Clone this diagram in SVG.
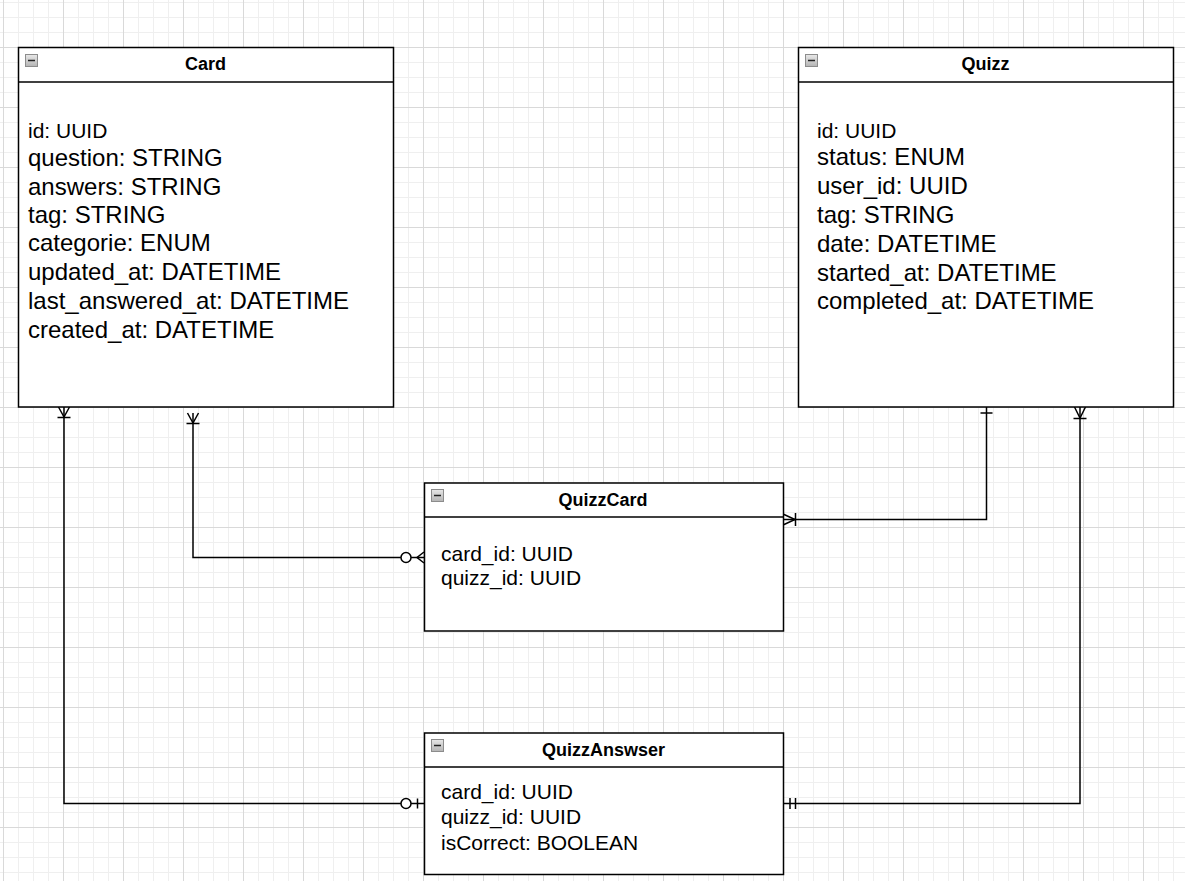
<svg xmlns="http://www.w3.org/2000/svg" width="1185" height="881" viewBox="0 0 1185 881">
  <defs>
    <!-- background grid: 15px minor cells, 60px major cells -->
    <pattern id="minorGrid" x="3" y="2" width="15" height="15" patternUnits="userSpaceOnUse">
      <path d="M0.5,0 V15 M0,0.5 H15" stroke="#efefef" stroke-width="1" fill="none"/>
    </pattern>
    <pattern id="majorGrid" x="3" y="47" width="60" height="60" patternUnits="userSpaceOnUse">
      <path d="M0.5,0 V60 M0,0.5 H60" stroke="#d9d9d9" stroke-width="1" fill="none"/>
    </pattern>
    <linearGradient id="iconFill" x1="0" y1="0" x2="0" y2="1">
      <stop offset="0" stop-color="#e8e8e8"/>
      <stop offset="1" stop-color="#b4b4b4"/>
    </linearGradient>
    <!-- collapse toggle shown in each table header -->
    <g id="collapseIcon">
      <rect x="0.5" y="0.5" width="12" height="12" fill="url(#iconFill)" stroke="#8c8c8c" stroke-width="1"/>
      <path d="M3,6.5 H10" stroke="#222" stroke-width="1.5"/>
    </g>
  </defs>
  <style>
    .box { fill: #ffffff; stroke: #000000; stroke-width: 1.5; }
    .sep { stroke: #000000; stroke-width: 1.5; fill: none; }
    .title { font-family: "Liberation Sans", Arial, sans-serif; font-weight: bold; font-size: 18px; fill: #000; text-anchor: middle; }
    .field { font-family: "Liberation Sans", Arial, sans-serif; font-size: 24px; fill: #000; }
    .small { font-size: 21px; }
    .edge { fill: none; stroke: #000000; stroke-width: 1.5; }
    .ring { fill: #ffffff; stroke: #000000; stroke-width: 1.5; }
  </style>

  <rect width="1185" height="881" fill="#ffffff"/>
  <rect width="1185" height="881" fill="url(#minorGrid)"/>
  <rect width="1185" height="881" fill="url(#majorGrid)"/>

  <!-- relationships -->
  <g id="connectors">
    <!-- Card (one-to-many) to QuizzAnswser (zero-or-one) -->
    <path class="edge" d="M64,407 V803.5 H424"/>
    <path class="edge" d="M58.5,407 L64,417 L69.5,407 M57.5,417.5 H70.5"/>
    <circle class="ring" cx="406" cy="803.5" r="5"/>
    <path class="edge" d="M417.5,798.5 V808.5"/>

    <!-- Card (one-to-many) to QuizzCard (zero-to-many) -->
    <path class="edge" d="M193,413 V557.5 H424"/>
    <path class="edge" d="M187.5,413 L193,423 L198.5,413 M186.5,423.5 H199.5"/>
    <circle class="ring" cx="406" cy="557.5" r="5"/>
    <path class="edge" d="M424,552 L417,557.5 L424,563"/>

    <!-- Quizz (one) to QuizzCard (one-to-many) -->
    <path class="edge" d="M986.5,407 V519.5 H783"/>
    <path class="edge" d="M980.5,413 H992.5"/>
    <path class="edge" d="M783,514 L795,519.5 L783,525 M795.5,513 V526"/>

    <!-- Quizz (one-to-many) to QuizzAnswser (exactly one) -->
    <path class="edge" d="M1080,407 V803.5 H783"/>
    <path class="edge" d="M1074.5,407 L1080,418 L1085.5,407 M1073.5,418.5 H1086.5"/>
    <path class="edge" d="M790,798 V809 M795.5,798 V809"/>
  </g>

  <g id="card">
    <rect class="box" x="18.5" y="47.5" width="375" height="359.5"/>
    <path class="sep" d="M18.5,82 H393.5"/>
    <use href="#collapseIcon" x="25" y="54"/>
    <text class="title" x="205.5" y="70">Card</text>
    <text class="field small" x="28" y="138">id: UUID</text>
    <text class="field" x="28" y="166">question: STRING</text>
    <text class="field" x="28" y="195">answers: STRING</text>
    <text class="field" x="28" y="223">tag: STRING</text>
    <text class="field" x="28" y="251">categorie: ENUM</text>
    <text class="field" x="28" y="280">updated_at: DATETIME</text>
    <text class="field" x="28" y="309">last_answered_at: DATETIME</text>
    <text class="field" x="28" y="338">created_at: DATETIME</text>
  </g>

  <g id="quizz">
    <rect class="box" x="798.5" y="47.5" width="375" height="359.5"/>
    <path class="sep" d="M798.5,82 H1173.5"/>
    <use href="#collapseIcon" x="805" y="54"/>
    <text class="title" x="985.5" y="70">Quizz</text>
    <text class="field small" x="817" y="138">id: UUID</text>
    <text class="field" x="817" y="165">status: ENUM</text>
    <text class="field" x="817" y="194">user_id: UUID</text>
    <text class="field" x="817" y="223">tag: STRING</text>
    <text class="field" x="817" y="252">date: DATETIME</text>
    <text class="field" x="817" y="281">started_at: DATETIME</text>
    <text class="field" x="817" y="309">completed_at: DATETIME</text>
  </g>

  <g id="quizzcard">
    <rect class="box" x="424.5" y="483" width="359" height="148"/>
    <path class="sep" d="M424.5,517 H783.5"/>
    <use href="#collapseIcon" x="431" y="489"/>
    <text class="title" x="603" y="505.5">QuizzCard</text>
    <text class="field small" x="441" y="561">card_id: UUID</text>
    <text class="field small" x="441" y="585">quizz_id: UUID</text>
  </g>

  <g id="quizzanswser">
    <rect class="box" x="424.5" y="733" width="359" height="141.5"/>
    <path class="sep" d="M424.5,767 H783.5"/>
    <use href="#collapseIcon" x="431" y="739"/>
    <text class="title" x="603.5" y="756">QuizzAnswser</text>
    <text class="field small" x="441" y="798.5">card_id: UUID</text>
    <text class="field small" x="441" y="824">quizz_id: UUID</text>
    <text class="field small" x="441" y="849.5">isCorrect: BOOLEAN</text>
  </g>
</svg>
